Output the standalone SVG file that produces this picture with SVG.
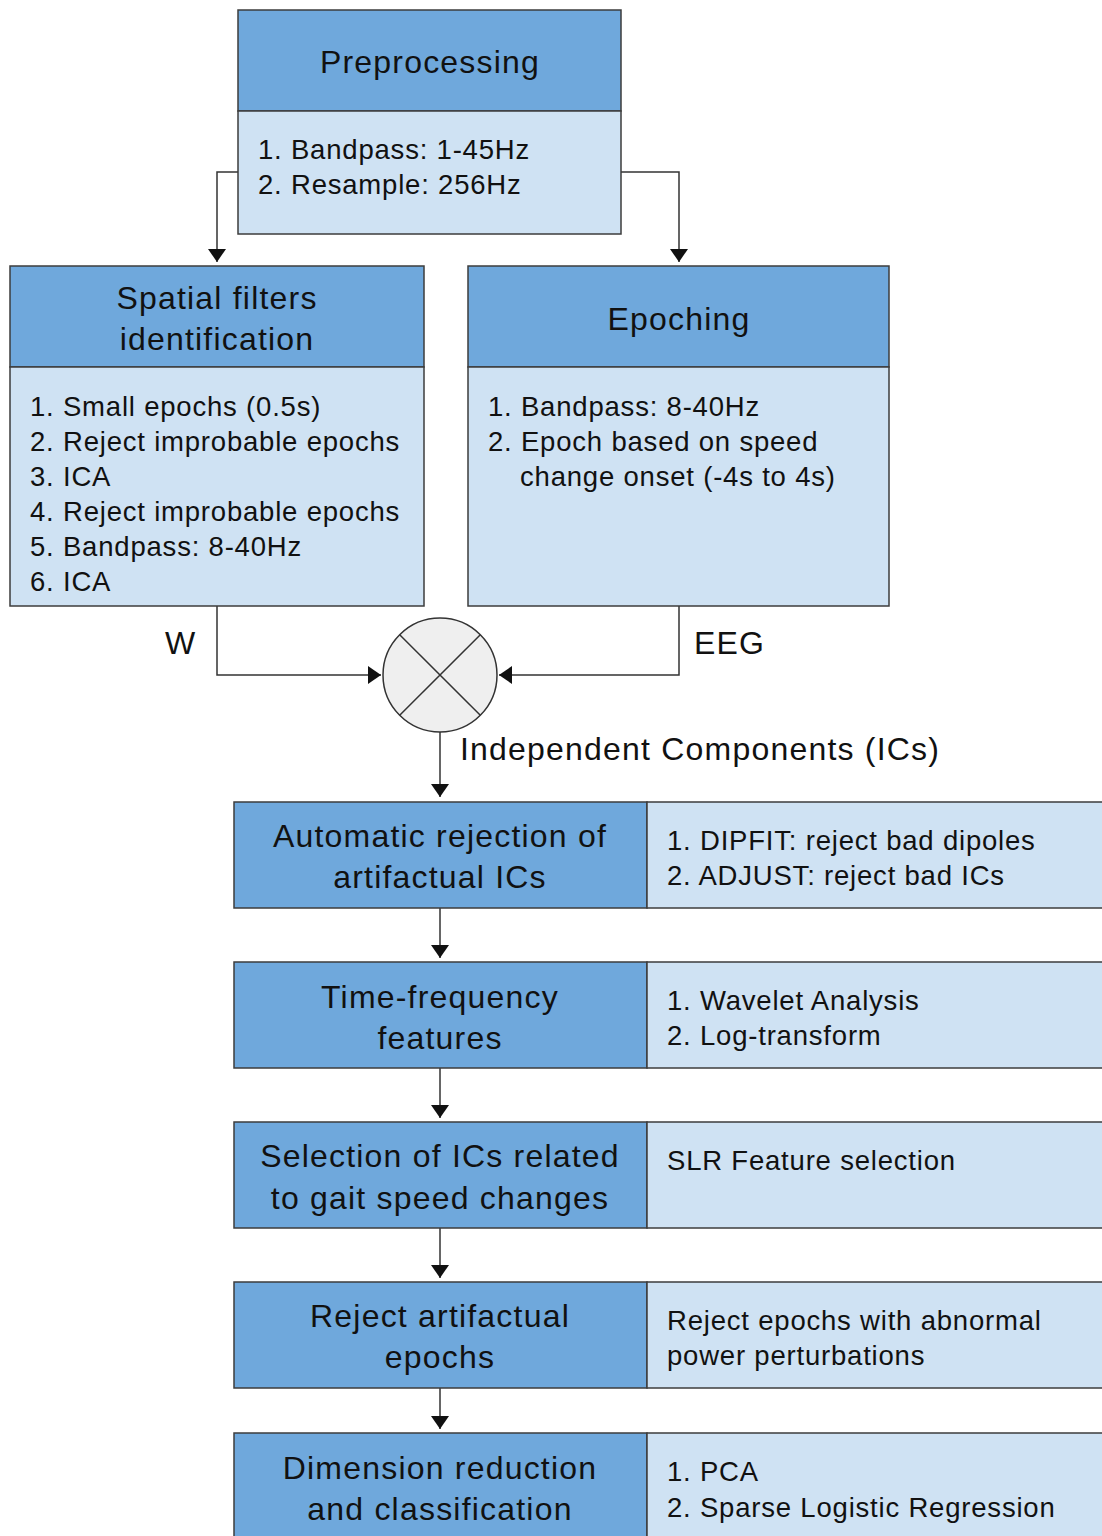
<svg xmlns="http://www.w3.org/2000/svg" width="1102" height="1536" viewBox="0 0 1102 1536">
<defs>
<marker id="ah" viewBox="0 0 13 18" refX="13" refY="9" markerWidth="13" markerHeight="18" markerUnits="userSpaceOnUse" orient="auto">
<path d="M0,0 L13,9 L0,18 Z" fill="#111"/>
</marker>
<style>
.hd{fill:#6fa8dc;stroke:#3d3d3d;stroke-width:1.5}
.bd{fill:#cfe2f3;stroke:#3d3d3d;stroke-width:1.5}
.ht{font-family:"Liberation Sans",Arial,sans-serif;font-size:32px;letter-spacing:1.2px;fill:#111;text-anchor:middle}
.bt{font-family:"Liberation Sans",Arial,sans-serif;font-size:27.5px;letter-spacing:0.8px;fill:#111}
.lb{font-family:"Liberation Sans",Arial,sans-serif;font-size:32px;letter-spacing:1.2px;fill:#111}
.cn{fill:none;stroke:#333;stroke-width:1.5}
</style>
</defs>
<rect width="1102" height="1536" fill="#fff"/>

<g id="connectors">
<path class="cn" d="M238,172 H217 V262" marker-end="url(#ah)"/>
<path class="cn" d="M621,172 H679 V262" marker-end="url(#ah)"/>
<path class="cn" d="M217,606 V675 H381" marker-end="url(#ah)"/>
<path class="cn" d="M679,606 V675 H499" marker-end="url(#ah)"/>
<path class="cn" d="M440,732 V797" marker-end="url(#ah)"/>
<path class="cn" d="M440,908 V958" marker-end="url(#ah)"/>
<path class="cn" d="M440,1068 V1118" marker-end="url(#ah)"/>
<path class="cn" d="M440,1228 V1278" marker-end="url(#ah)"/>
<path class="cn" d="M440,1388 V1429" marker-end="url(#ah)"/>
<text class="lb" x="165" y="654">W</text>
<text class="lb" x="694" y="654">EEG</text>
<text class="lb" x="460" y="760">Independent Components (ICs)</text>
</g>

<g id="preprocessing">
<rect class="hd" x="238" y="10" width="383" height="101"/>
<rect class="bd" x="238" y="111" width="383" height="123"/>
<text class="ht" x="430" y="73">Preprocessing</text>
<text class="bt" x="258" y="159">1. Bandpass: 1-45Hz</text>
<text class="bt" x="258" y="194">2. Resample: 256Hz</text>
</g>

<g id="spatial-filters">
<rect class="hd" x="10" y="266" width="414" height="101"/>
<rect class="bd" x="10" y="367" width="414" height="239"/>
<text class="ht" x="217" y="309">Spatial filters</text>
<text class="ht" x="217" y="350">identification</text>
<text class="bt" x="30" y="416">1. Small epochs (0.5s)</text>
<text class="bt" x="30" y="451">2. Reject improbable epochs</text>
<text class="bt" x="30" y="486">3. ICA</text>
<text class="bt" x="30" y="521">4. Reject improbable epochs</text>
<text class="bt" x="30" y="556">5. Bandpass: 8-40Hz</text>
<text class="bt" x="30" y="591">6. ICA</text>
</g>

<g id="epoching">
<rect class="hd" x="468" y="266" width="421" height="101"/>
<rect class="bd" x="468" y="367" width="421" height="239"/>
<text class="ht" x="679" y="330">Epoching</text>
<text class="bt" x="488" y="416">1. Bandpass: 8-40Hz</text>
<text class="bt" x="488" y="451">2. Epoch based on speed</text>
<text class="bt" x="520" y="486">change onset (-4s to 4s)</text>
</g>

<g id="multiply">
<circle cx="440" cy="675" r="57" fill="#efefef" stroke="#333" stroke-width="1.5"/>
<path d="M399.7,634.7 L480.3,715.3 M480.3,634.7 L399.7,715.3" stroke="#333" stroke-width="1.5" fill="none"/>
</g>

<g id="auto-rejection">
<rect class="hd" x="234" y="802" width="413" height="106"/>
<rect class="bd" x="647" y="802" width="465" height="106"/>
<text class="ht" x="440" y="847">Automatic rejection of</text>
<text class="ht" x="440" y="888">artifactual ICs</text>
<text class="bt" x="667" y="850">1. DIPFIT: reject bad dipoles</text>
<text class="bt" x="667" y="885">2. ADJUST: reject bad ICs</text>
</g>

<g id="time-frequency">
<rect class="hd" x="234" y="962" width="413" height="106"/>
<rect class="bd" x="647" y="962" width="465" height="106"/>
<text class="ht" x="440" y="1008">Time-frequency</text>
<text class="ht" x="440" y="1049">features</text>
<text class="bt" x="667" y="1010">1. Wavelet Analysis</text>
<text class="bt" x="667" y="1045">2. Log-transform</text>
</g>

<g id="selection">
<rect class="hd" x="234" y="1122" width="413" height="106"/>
<rect class="bd" x="647" y="1122" width="465" height="106"/>
<text class="ht" x="440" y="1167">Selection of ICs related</text>
<text class="ht" x="440" y="1209">to gait speed changes</text>
<text class="bt" x="667" y="1170">SLR Feature selection</text>
</g>

<g id="reject-epochs">
<rect class="hd" x="234" y="1282" width="413" height="106"/>
<rect class="bd" x="647" y="1282" width="465" height="106"/>
<text class="ht" x="440" y="1327">Reject artifactual</text>
<text class="ht" x="440" y="1368">epochs</text>
<text class="bt" x="667" y="1330">Reject epochs with abnormal</text>
<text class="bt" x="667" y="1365">power perturbations</text>
</g>

<g id="dimension-reduction">
<rect class="hd" x="234" y="1433" width="413" height="120"/>
<rect class="bd" x="647" y="1433" width="465" height="120"/>
<text class="ht" x="440" y="1479">Dimension reduction</text>
<text class="ht" x="440" y="1520">and classification</text>
<text class="bt" x="667" y="1481">1. PCA</text>
<text class="bt" x="667" y="1517">2. Sparse Logistic Regression</text>
</g>
</svg>
